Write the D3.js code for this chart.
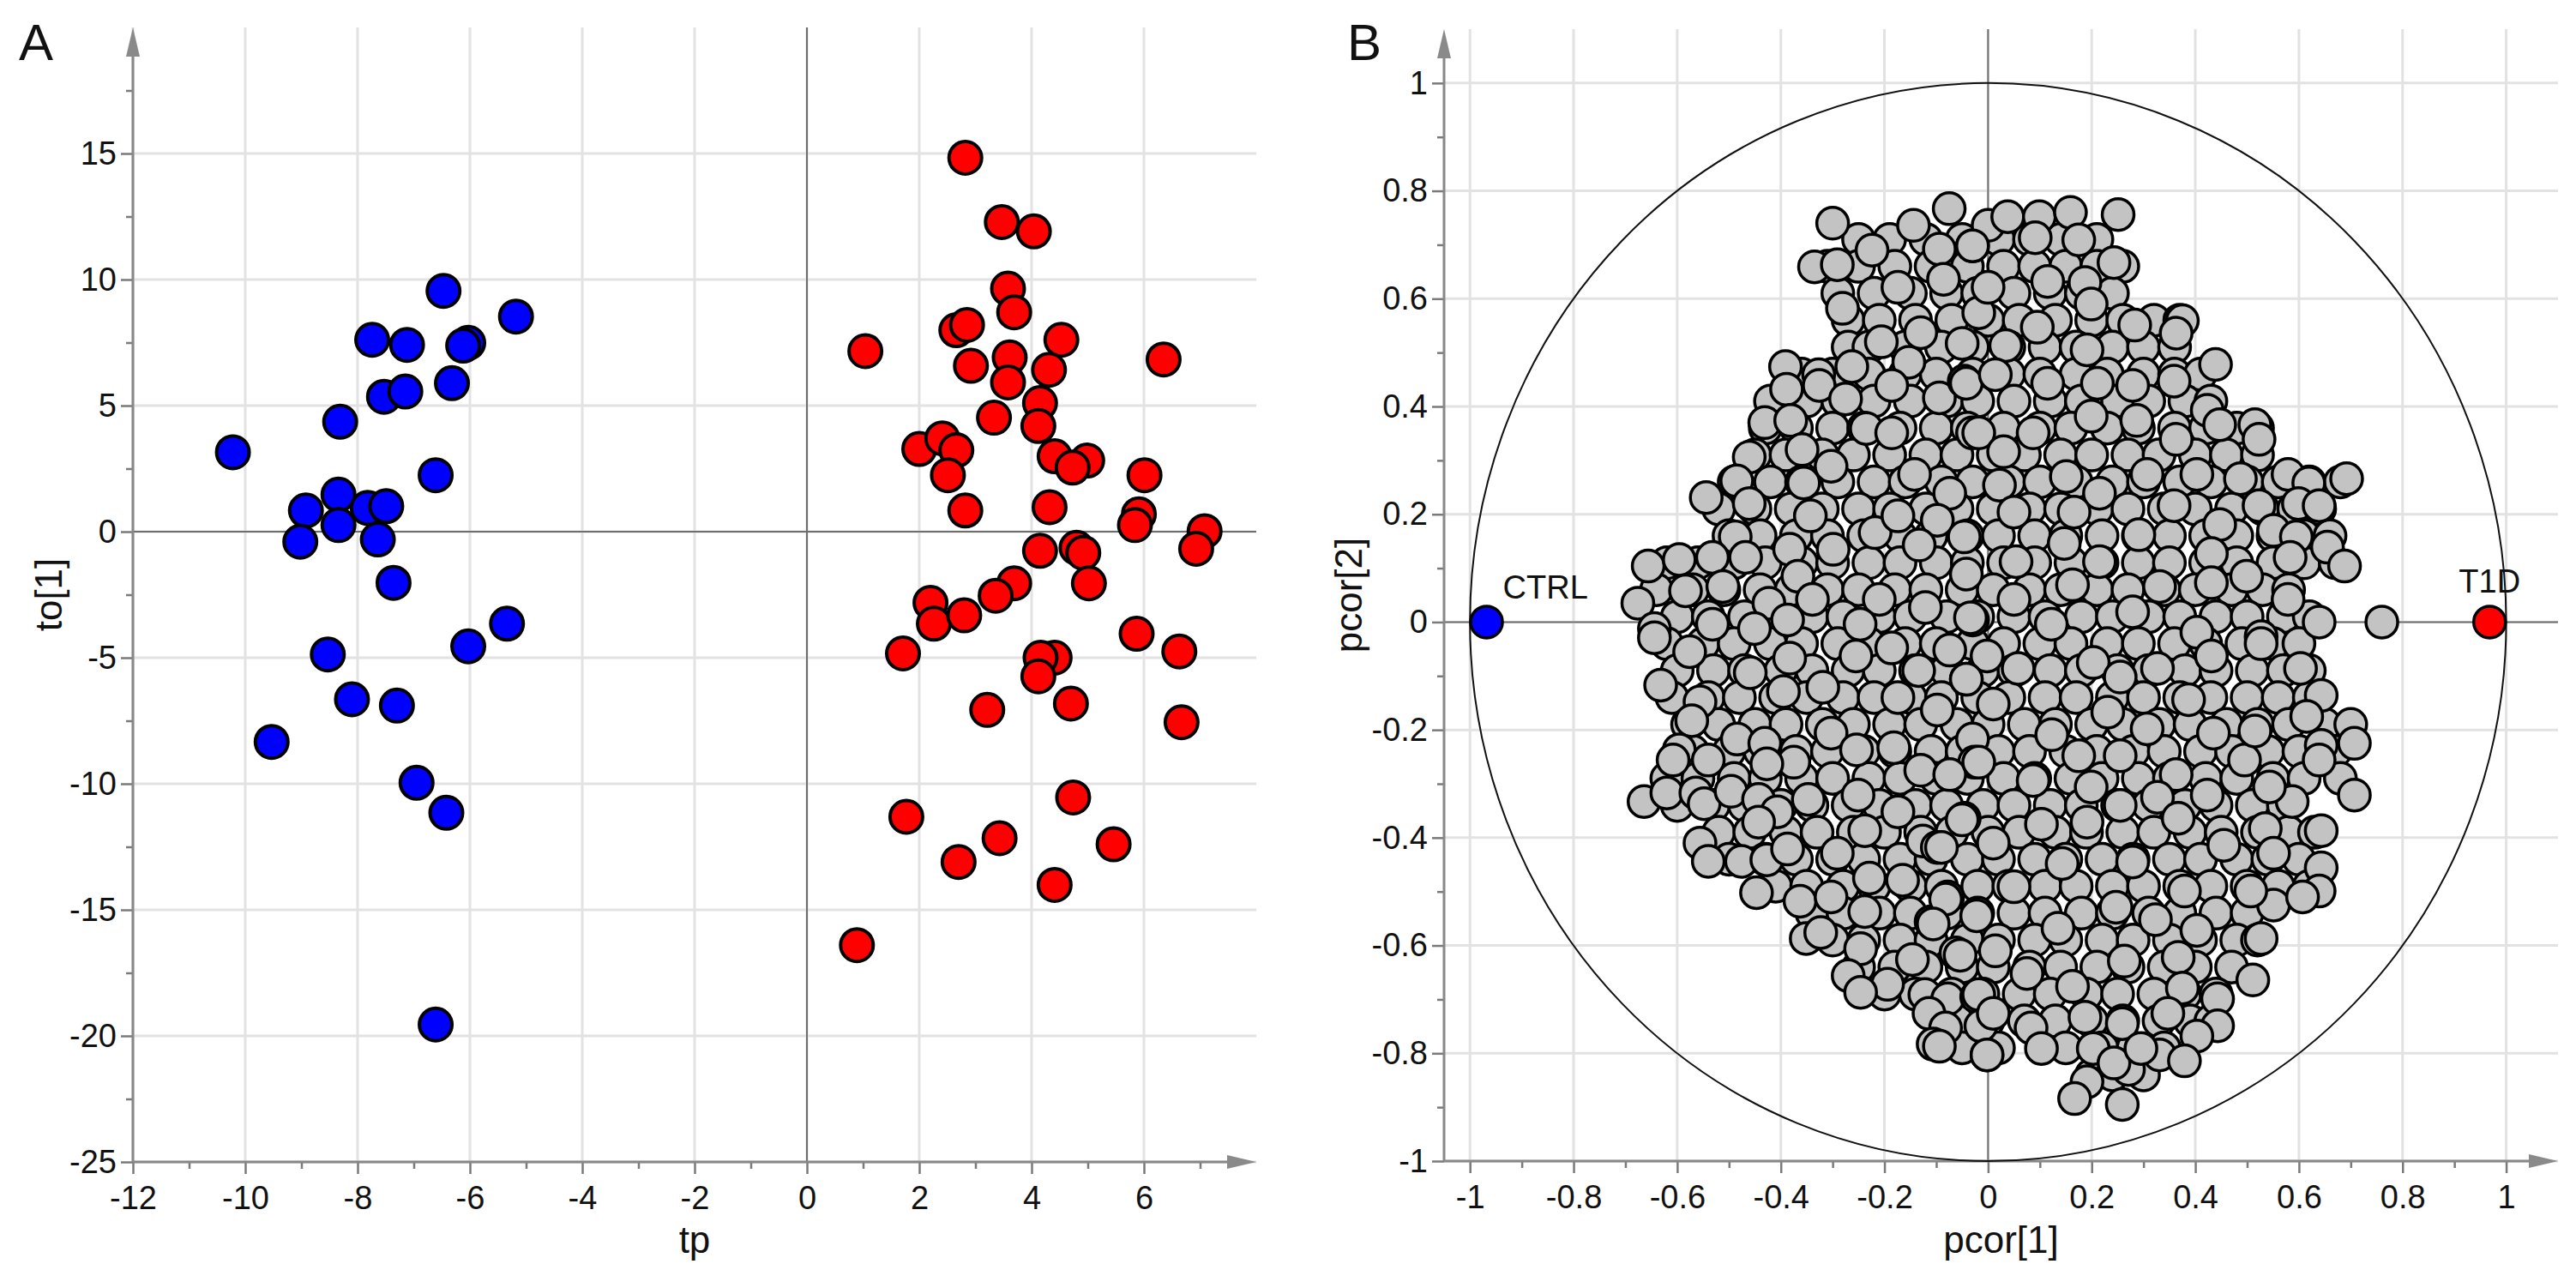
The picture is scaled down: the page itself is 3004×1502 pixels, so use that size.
<!DOCTYPE html>
<html>
<head>
<meta charset="utf-8">
<script src="https://cdn.jsdelivr.net/npm/d3@7"></script>
<style>
  body { margin: 0; background: #fff; }
  text { font-family: "Liberation Sans", Arial, sans-serif; }
</style>
</head>
<body>
<svg id="chart" width="3004" height="1502"></svg>
<script>
// ---- Panel A: OPLS-DA scores (tp vs to[1]) ----
const ctrlScores = [
  [-6.47,9.55],[-5.18,8.53],[-7.74,7.61],[-7.12,7.41],[-6.03,7.49],[-6.12,7.38],
  [-6.32,5.89],[-7.53,5.35],[-7.15,5.56],[-8.31,4.36],[-10.22,3.15],[-6.61,2.24],
  [-8.92,0.84],[-8.34,1.47],[-8.34,0.26],[-7.82,0.94],[-7.49,1.01],[-9.02,-0.40],
  [-7.64,-0.31],[-7.36,-2.03],[-5.34,-3.65],[-6.03,-4.55],[-8.53,-4.87],[-8.10,-6.65],
  [-7.30,-6.90],[-9.53,-8.34],[-6.95,-9.96],[-6.42,-11.15],[-6.61,-19.55]
];
const t1dScores = [
  [2.82,14.83],[3.47,12.28],[4.04,11.91],[3.58,9.64],[3.69,8.70],[2.66,7.99],
  [2.85,8.20],[4.53,7.61],[1.04,7.16],[6.35,6.83],[2.92,6.58],[3.61,6.91],
  [3.58,5.92],[4.31,6.42],[4.15,5.10],[3.33,4.52],[4.12,4.19],[2.00,3.28],
  [2.41,3.70],[2.66,3.23],[2.51,2.24],[4.41,2.99],[4.99,2.82],[4.73,2.54],
  [6.01,2.24],[2.82,0.84],[4.32,0.97],[5.91,0.69],[5.84,0.26],[7.08,0.02],
  [6.93,-0.68],[4.80,-0.64],[4.92,-0.84],[4.15,-0.76],[3.69,-2.05],[3.36,-2.54],
  [5.02,-2.05],[2.20,-2.82],[2.26,-3.65],[2.80,-3.32],[5.87,-4.05],[1.71,-4.83],
  [6.63,-4.75],[4.41,-5.00],[4.16,-5.00],[4.12,-5.74],[4.70,-6.82],[3.21,-7.07],
  [6.67,-7.56],[4.74,-10.54],[1.77,-11.31],[3.43,-12.16],[5.46,-12.40],[2.70,-13.10],
  [4.41,-14.01],[0.89,-16.40]
];
const tpTicks = [-12,-10,-8,-6,-4,-2,0,2,4,6];
const tpMinor = [-11,-9,-7,-5,-3,-1,1,3,5,7];
const toTicks = [-25,-20,-15,-10,-5,0,5,10,15];
const toMinor = [-22.5,-17.5,-12.5,-7.5,-2.5,2.5,7.5,12.5,17.5];

// ---- Panel B: loadings (pcor[1] vs pcor[2]) ----
const groupLoadings = [
  { label: "CTRL", x: -0.968, y: 0, color: "#0000ff" },
  { label: "T1D",  x: 0.968,  y: 0, color: "#ff0000" }
];
// variables hidden inside the cloud, read row by row: [pcor[2], [pcor[1] values]]
const hiddenLoadingRows = [
  [0.71, [-0.25,-0.19,-0.12,-0.05,0.02,0.08,0.14,0.21]],
  [0.66, [-0.31,-0.25,-0.18,-0.11,-0.04,0.03,0.09,0.15,0.21,0.26]],
  [0.61, [-0.29,-0.22,-0.15,-0.08,-0.02,0.05,0.12,0.18,0.24]],
  [0.56, [-0.27,-0.21,-0.14,-0.07,0.00,0.06,0.13,0.20,0.26,0.32,0.37]],
  [0.51, [-0.27,-0.23,-0.16,-0.09,-0.03,0.04,0.11,0.17,0.24,0.30,0.36]],
  [0.46, [-0.36,-0.30,-0.23,-0.16,-0.10,-0.03,0.04,0.10,0.17,0.23,0.30,0.36,0.41]],
  [0.41, [-0.42,-0.35,-0.29,-0.22,-0.15,-0.08,-0.02,0.05,0.12,0.18,0.25,0.31,0.38,0.43]],
  [0.36, [-0.43,-0.37,-0.30,-0.24,-0.17,-0.10,-0.04,0.03,0.10,0.16,0.23,0.29,0.36,0.42,0.48,0.52]],
  [0.31, [-0.45,-0.39,-0.32,-0.26,-0.19,-0.12,-0.06,0.01,0.07,0.14,0.20,0.27,0.33,0.40,0.46,0.52]],
  [0.26, [-0.49,-0.42,-0.36,-0.29,-0.22,-0.16,-0.09,-0.03,0.04,0.10,0.17,0.24,0.30,0.37,0.43,0.50,0.56,0.62,0.68]],
  [0.21, [-0.52,-0.45,-0.38,-0.32,-0.25,-0.19,-0.12,-0.06,0.01,0.08,0.14,0.21,0.27,0.34,0.40,0.47,0.53,0.59,0.64]],
  [0.16, [-0.50,-0.44,-0.37,-0.31,-0.24,-0.17,-0.11,-0.04,0.02,0.09,0.15,0.22,0.29,0.35,0.42,0.48,0.55,0.61,0.66]],
  [0.11, [-0.62,-0.56,-0.49,-0.43,-0.36,-0.30,-0.23,-0.17,-0.10,-0.04,0.03,0.09,0.16,0.22,0.29,0.35,0.42,0.48,0.55,0.61,0.67]],
  [0.06, [-0.64,-0.57,-0.51,-0.44,-0.38,-0.31,-0.25,-0.18,-0.12,-0.05,0.01,0.08,0.14,0.21,0.27,0.34,0.40,0.47,0.53,0.58]],
  [0.01, [-0.60,-0.54,-0.47,-0.41,-0.34,-0.28,-0.21,-0.15,-0.08,-0.02,0.05,0.11,0.18,0.24,0.31,0.37,0.44,0.50,0.57,0.62]],
  [-0.04, [-0.62,-0.55,-0.49,-0.42,-0.36,-0.29,-0.23,-0.16,-0.10,-0.03,0.03,0.10,0.16,0.23,0.29,0.36,0.42,0.49,0.55,0.60]],
  [-0.09, [-0.60,-0.53,-0.47,-0.40,-0.34,-0.27,-0.21,-0.14,-0.08,-0.01,0.05,0.12,0.18,0.25,0.31,0.38,0.44,0.51,0.57,0.62]],
  [-0.14, [-0.61,-0.54,-0.48,-0.41,-0.35,-0.28,-0.22,-0.15,-0.09,-0.02,0.04,0.11,0.17,0.24,0.30,0.37,0.43,0.50,0.56,0.62]],
  [-0.19, [-0.58,-0.52,-0.45,-0.39,-0.32,-0.26,-0.19,-0.13,-0.06,0.00,0.07,0.13,0.20,0.26,0.33,0.39,0.46,0.52,0.58,0.65,0.70]],
  [-0.24, [-0.57,-0.50,-0.44,-0.37,-0.31,-0.24,-0.18,-0.11,-0.05,0.02,0.08,0.15,0.21,0.28,0.34,0.41,0.47,0.54,0.60,0.67]],
  [-0.29, [-0.62,-0.56,-0.49,-0.43,-0.36,-0.30,-0.23,-0.17,-0.10,-0.04,0.03,0.09,0.16,0.22,0.29,0.35,0.42,0.48,0.55,0.61,0.68]],
  [-0.34, [-0.60,-0.53,-0.47,-0.40,-0.34,-0.27,-0.21,-0.14,-0.08,-0.01,0.05,0.12,0.18,0.25,0.31,0.38,0.44,0.51,0.57]],
  [-0.39, [-0.52,-0.46,-0.39,-0.33,-0.26,-0.20,-0.13,-0.07,0.00,0.06,0.13,0.19,0.26,0.32,0.39,0.45,0.52,0.58,0.63]],
  [-0.44, [-0.50,-0.43,-0.37,-0.30,-0.24,-0.17,-0.11,-0.04,0.02,0.09,0.15,0.22,0.28,0.35,0.41,0.48,0.54,0.60]],
  [-0.49, [-0.41,-0.35,-0.28,-0.22,-0.15,-0.09,-0.02,0.04,0.11,0.17,0.24,0.30,0.37,0.43,0.50,0.56,0.62]],
  [-0.54, [-0.34,-0.28,-0.21,-0.15,-0.08,-0.02,0.05,0.11,0.18,0.24,0.31,0.37,0.44,0.50]],
  [-0.59, [-0.30,-0.24,-0.17,-0.11,-0.04,0.02,0.09,0.15,0.22,0.28,0.35,0.41,0.48,0.52]],
  [-0.64, [-0.25,-0.18,-0.12,-0.05,0.01,0.08,0.14,0.21,0.27,0.34,0.40,0.47]],
  [-0.69, [-0.20,-0.14,-0.07,-0.01,0.06,0.12,0.19,0.25,0.32,0.38,0.44]],
  [-0.74, [-0.06,0.00,0.07,0.13,0.20,0.26,0.33,0.39,0.43]],
  [-0.79, [-0.05,0.02,0.15,0.22,0.28,0.34]],
  [-0.84, [0.20,0.24,0.30]]
];
// variables on top of the cloud (visible outlines)
const variableLoadings = [
  // upper left
  [-0.30,0.74],[-0.335,0.659],[-0.291,0.663],[-0.224,0.690],[-0.144,0.736],[-0.075,0.767],
  [-0.030,0.698],[-0.094,0.692],[-0.174,0.621],[-0.086,0.636],[-0.281,0.582],[-0.018,0.574],
  [-0.206,0.520],[-0.130,0.537],[-0.050,0.517],[-0.263,0.474],[-0.153,0.482],[-0.391,0.474],
  [-0.327,0.459],[-0.389,0.432],[-0.326,0.439],[-0.275,0.414],[-0.186,0.439],[-0.094,0.416],
  [-0.046,0.447],[-0.431,0.370],[-0.381,0.374],[-0.235,0.359],[-0.186,0.351],[-0.030,0.351],
  [-0.461,0.306],[-0.359,0.320],[-0.303,0.289],[-0.142,0.274],[-0.074,0.239],[-0.485,0.262],
  [-0.356,0.258],[-0.544,0.231],[-0.461,0.220],[-0.343,0.197],[-0.218,0.166],[-0.174,0.197],
  [-0.098,0.189],[-0.046,0.158],[-0.488,0.158],[-0.383,0.135],[-0.299,0.135],[-0.133,0.143],
  [-0.656,0.104],[-0.596,0.116],[-0.532,0.120],[-0.468,0.120],[-0.367,0.085],[-0.042,0.089],
  [-0.676,0.035],[-0.584,0.058],[-0.512,0.066],[-0.423,0.035],[-0.339,0.042],[-0.210,0.042],
  [-0.121,0.027],[-0.644,-0.012],[-0.532,-0.004],[-0.451,-0.012],[-0.387,0.004],[-0.247,-0.004],
  [-0.030,0.004],
  // upper right
  [0.000,0.736],[0.038,0.752],[0.099,0.752],[0.159,0.760],[0.251,0.756],[-0.030,0.698],
  [0.091,0.713],[0.175,0.709],[0.243,0.667],[0.000,0.621],[0.115,0.632],[0.187,0.630],
  [0.095,0.547],[0.199,0.590],[0.283,0.551],[0.375,0.559],[0.363,0.536],[0.191,0.505],
  [0.034,0.513],[0.439,0.478],[0.359,0.447],[0.279,0.439],[0.211,0.443],[0.115,0.443],
  [-0.042,0.443],[0.014,0.459],[0.423,0.393],[0.515,0.366],[0.199,0.382],[0.287,0.374],
  [0.363,0.339],[0.447,0.366],[0.087,0.351],[-0.018,0.351],[0.523,0.339],[0.030,0.316],
  [0.151,0.270],[0.307,0.274],[0.403,0.274],[0.487,0.266],[0.579,0.274],[0.619,0.258],
  [0.692,0.266],[0.022,0.254],[0.215,0.239],[0.359,0.216],[0.523,0.216],[0.599,0.220],
  [0.639,0.216],[0.050,0.204],[0.166,0.204],[0.447,0.181],[0.551,0.170],[0.595,0.158],
  [0.655,0.139],[0.688,0.104],[0.583,0.120],[0.431,0.127],[0.291,0.162],[0.147,0.146],
  [0.054,0.112],[0.215,0.112],[0.331,0.066],[0.499,0.085],[0.431,0.073],[0.579,0.042],
  [0.163,0.069],[-0.034,0.008],[0.050,0.042],[0.122,-0.004],[0.279,0.019],[0.403,-0.019],
  [0.527,-0.027],[0.639,0.000],[0.760,0.000],
  // lower left
  [-0.644,-0.029],[-0.576,-0.055],[-0.459,-0.094],[-0.383,-0.067],[-0.255,-0.063],[-0.186,-0.048],
  [-0.134,-0.090],[-0.042,-0.106],[-0.632,-0.117],[-0.556,-0.148],[-0.395,-0.129],[-0.319,-0.121],
  [-0.174,-0.140],[-0.098,-0.163],[-0.572,-0.183],[-0.484,-0.217],[-0.431,-0.225],[-0.303,-0.206],
  [-0.254,-0.237],[-0.182,-0.233],[-0.030,-0.217],[-0.596,-0.237],[-0.608,-0.256],[-0.540,-0.256],
  [-0.375,-0.260],[-0.427,-0.263],[-0.130,-0.275],[-0.026,-0.260],[-0.074,-0.283],[-0.664,-0.333],
  [-0.620,-0.317],[-0.564,-0.317],[-0.548,-0.337],[-0.496,-0.314],[-0.443,-0.329],[-0.407,-0.352],
  [-0.347,-0.329],[-0.251,-0.321],[-0.174,-0.352],[-0.046,-0.364],[-0.443,-0.371],[-0.556,-0.410],
  [-0.540,-0.444],[-0.476,-0.444],[-0.427,-0.441],[-0.387,-0.421],[-0.291,-0.429],[-0.238,-0.387],
  [-0.126,-0.406],[-0.098,-0.418],[-0.447,-0.502],[-0.363,-0.518],[-0.303,-0.510],[-0.229,-0.475],
  [-0.165,-0.479],[-0.078,-0.510],[-0.238,-0.537],[-0.110,-0.556],[-0.022,-0.545],[-0.351,-0.587],
  [-0.323,-0.576],[-0.246,-0.606],[-0.146,-0.626],[-0.062,-0.614],[-0.270,-0.656],[-0.194,-0.672],
  [-0.246,-0.687],[-0.122,-0.691],[-0.078,-0.699],[-0.022,-0.695],[-0.114,-0.726],[-0.082,-0.753],
  [-0.106,-0.783],[-0.002,-0.803],[-0.014,-0.749],
  // lower right
  [-0.074,-0.052],[-0.002,-0.063],[0.058,-0.086],[-0.042,-0.106],[0.203,-0.075],[0.255,-0.102],
  [0.327,-0.086],[0.431,-0.063],[0.527,-0.040],[0.603,-0.086],[0.643,-0.136],[0.615,-0.175],
  [0.707,-0.225],[0.643,-0.229],[0.639,-0.256],[0.495,-0.256],[0.435,-0.206],[0.515,-0.202],
  [0.707,-0.321],[0.587,-0.333],[0.543,-0.306],[0.423,-0.321],[0.387,-0.144],[0.231,-0.167],
  [0.010,-0.152],[0.123,-0.209],[-0.018,-0.260],[0.175,-0.248],[0.255,-0.248],[0.307,-0.198],
  [0.363,-0.283],[0.087,-0.294],[0.199,-0.306],[0.327,-0.325],[0.255,-0.340],[-0.050,-0.367],
  [0.103,-0.375],[0.191,-0.371],[0.367,-0.364],[0.643,-0.387],[0.535,-0.383],[0.551,-0.429],
  [0.455,-0.414],[-0.090,-0.418],[0.010,-0.410],[0.143,-0.448],[0.279,-0.445],[0.643,-0.456],
  [0.639,-0.499],[0.551,-0.525],[0.607,-0.510],[0.507,-0.499],[0.379,-0.499],[0.050,-0.491],
  [-0.082,-0.514],[0.247,-0.529],[0.323,-0.552],[0.403,-0.572],[0.527,-0.587],[0.135,-0.568],
  [-0.106,-0.560],[0.014,-0.610],[-0.054,-0.618],[0.075,-0.652],[0.263,-0.629],[0.367,-0.622],
  [0.511,-0.664],[0.443,-0.699],[0.375,-0.679],[0.163,-0.676],[-0.018,-0.691],[0.010,-0.726],
  [0.083,-0.753],[0.187,-0.733],[0.259,-0.745],[0.347,-0.726],[0.443,-0.749],[0.403,-0.768],
  [-0.094,-0.787],[-0.002,-0.803],[0.203,-0.791],[0.331,-0.803],[0.379,-0.814],[0.271,-0.830],
  [0.243,-0.818],[0.191,-0.853],[0.167,-0.884],[0.259,-0.895],[0.103,-0.791],[0.295,-0.791]
];
const pcorTicks = [-1,-0.8,-0.6,-0.4,-0.2,0,0.2,0.4,0.6,0.8,1];
const pcorMinor = [-0.9,-0.7,-0.5,-0.3,-0.1,0.1,0.3,0.5,0.7,0.9];

const svg = d3.select("#chart");
const fmt = d => String(d);

// draw grid, zero lines, axes with arrow heads
function drawFrame(g, x, y, xt, xm, yt, ym, xTitle, yTitle, yTitleX) {
  let x0 = x.range()[0], x1 = x.range()[1];
  let y0 = y.range()[0], y1 = y.range()[1];

  // light grid lines
  g.selectAll(".vgrid").data(xt).enter().append("line")
    .attr("x1", d => x(d)).attr("x2", d => x(d))
    .attr("y1", y0).attr("y2", y1)
    .attr("stroke", "#e2e2e2").attr("stroke-width", 3);
  g.selectAll(".hgrid").data(yt).enter().append("line")
    .attr("x1", x0).attr("x2", x1)
    .attr("y1", d => y(d)).attr("y2", d => y(d))
    .attr("stroke", "#e2e2e2").attr("stroke-width", 3);

  // zero lines
  g.append("line").attr("x1", x(0)).attr("x2", x(0)).attr("y1", y0).attr("y2", y1)
    .attr("stroke", "#6e6e6e").attr("stroke-width", 2);
  g.append("line").attr("x1", x0).attr("x2", x1).attr("y1", y(0)).attr("y2", y(0))
    .attr("stroke", "#6e6e6e").attr("stroke-width", 2);

  // minor ticks
  g.append("g").attr("transform", "translate(0," + y0 + ")")
    .call(d3.axisBottom(x).tickValues(xm).tickSize(8).tickFormat(""))
    .call(a => a.select(".domain").remove());
  g.append("g").attr("transform", "translate(" + x0 + ",0)")
    .call(d3.axisLeft(y).tickValues(ym).tickSize(8).tickFormat(""))
    .call(a => a.select(".domain").remove());

  // major ticks + labels
  let xa = g.append("g").attr("transform", "translate(0," + y0 + ")")
    .call(d3.axisBottom(x).tickValues(xt).tickSize(14).tickPadding(14).tickFormat(fmt));
  let ya = g.append("g").attr("transform", "translate(" + x0 + ",0)")
    .call(d3.axisLeft(y).tickValues(yt).tickSize(14).tickPadding(5).tickFormat(fmt));
  [xa, ya].forEach(a => {
    a.select(".domain").remove();
    a.selectAll("text").attr("font-size", "38px").attr("fill", "#111")
      .attr("font-family", "Liberation Sans, Arial, sans-serif");
  });
  g.selectAll(".tick line").attr("stroke", "#7a7a7a").attr("stroke-width", 2.5);

  // axis lines with arrows
  g.append("line").attr("x1", x0).attr("x2", x1 - 30).attr("y1", y0).attr("y2", y0)
    .attr("stroke", "#888").attr("stroke-width", 3);
  g.append("line").attr("x1", x0).attr("x2", x0).attr("y1", y0).attr("y2", y1 + 30)
    .attr("stroke", "#888").attr("stroke-width", 3);
  g.append("path")
    .attr("d", "M" + x1 + "," + y0 + "L" + (x1 - 34) + "," + (y0 - 8) + "L" + (x1 - 34) + "," + (y0 + 8) + "Z")
    .attr("fill", "#8a8a8a");
  g.append("path")
    .attr("d", "M" + x0 + "," + y1 + "L" + (x0 - 8) + "," + (y1 + 34) + "L" + (x0 + 8) + "," + (y1 + 34) + "Z")
    .attr("fill", "#8a8a8a");

  // axis titles
  g.append("text")
    .attr("x", (x0 + x1) / 2).attr("y", 1461)
    .attr("text-anchor", "middle").attr("font-size", "44px").attr("fill", "#111")
    .text(xTitle);
  g.append("text")
    .attr("transform", "translate(" + yTitleX + "," + ((y0 + y1) / 2) + ") rotate(-90)")
    .attr("text-anchor", "middle").attr("font-size", "44px").attr("fill", "#111")
    .text(yTitle);
}

// ---- Panel A ----
let xA = d3.scaleLinear().domain([-12, 8]).range([155, 1465]);
let yA = d3.scaleLinear().domain([-25, 20]).range([1355, 32]);
let gA = svg.append("g");
drawFrame(gA, xA, yA, tpTicks, tpMinor, toTicks, toMinor, "tp", "to[1]", 72);

gA.selectAll(".ctrl").data(ctrlScores).enter().append("circle")
  .attr("cx", d => xA(d[0])).attr("cy", d => yA(d[1])).attr("r", 19)
  .attr("fill", "#0000ff").attr("stroke", "#000").attr("stroke-width", 4);
gA.selectAll(".t1d").data(t1dScores).enter().append("circle")
  .attr("cx", d => xA(d[0])).attr("cy", d => yA(d[1])).attr("r", 19)
  .attr("fill", "#ff0000").attr("stroke", "#000").attr("stroke-width", 4);

svg.append("text").attr("x", 22).attr("y", 70).attr("font-size", "60px").attr("fill", "#111").text("A");

// ---- Panel B ----
let xB = d3.scaleLinear().domain([-1.05, 1.10]).range([1684, 2983]);
let yB = d3.scaleLinear().domain([-1, 1.1]).range([1354, 34]);
let gB = svg.append("g");
drawFrame(gB, xB, yB, pcorTicks, pcorMinor, pcorTicks, pcorMinor, "pcor[1]", "pcor[2]", 1588);

// unit correlation circle
gB.append("ellipse")
  .attr("cx", xB(0)).attr("cy", yB(0))
  .attr("rx", xB(1) - xB(0)).attr("ry", yB(0) - yB(1))
  .attr("fill", "none").attr("stroke", "#111").attr("stroke-width", 2);

let hidden = [];
hiddenLoadingRows.forEach(r => r[1].forEach(v => hidden.push([v, r[0]])));
let allVars = hidden.concat(variableLoadings);

gB.selectAll(".var").data(allVars).enter().append("circle")
  .attr("cx", d => xB(d[0])).attr("cy", d => yB(d[1])).attr("r", 18.5)
  .attr("fill", "#c3c3c3").attr("stroke", "#000").attr("stroke-width", 3.5);

gB.selectAll(".grp").data(groupLoadings).enter().append("circle")
  .attr("cx", d => xB(d.x)).attr("cy", d => yB(d.y)).attr("r", 18.5)
  .attr("fill", d => d.color).attr("stroke", "#000").attr("stroke-width", 3.5);

// group labels
gB.append("text").attr("x", xB(groupLoadings[0].x) + 19).attr("y", yB(0) - 27)
  .attr("font-size", "38px").attr("fill", "#111").text(groupLoadings[0].label);
gB.append("text").attr("x", xB(groupLoadings[1].x)).attr("y", yB(0) - 34)
  .attr("text-anchor", "middle").attr("font-size", "38px").attr("fill", "#111").text(groupLoadings[1].label);

svg.append("text").attr("x", 1571).attr("y", 70).attr("font-size", "60px").attr("fill", "#111").text("B");
</script>
</body>
</html>
